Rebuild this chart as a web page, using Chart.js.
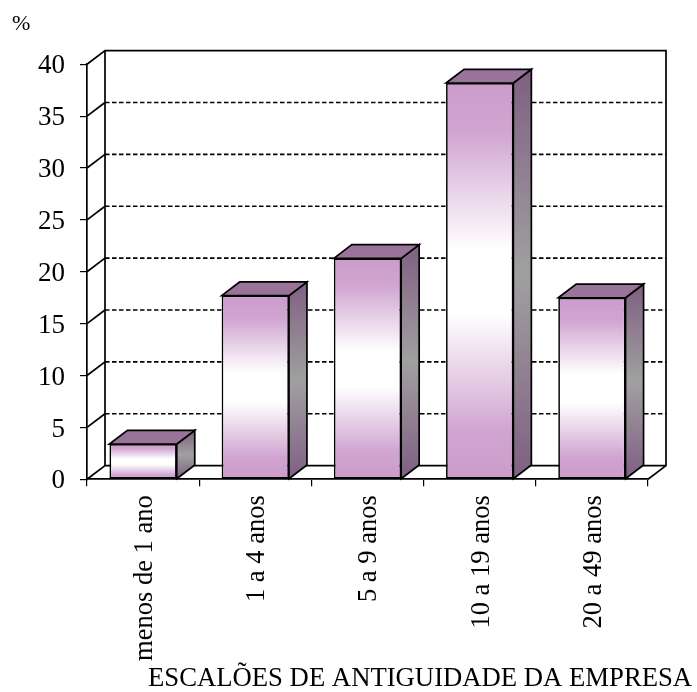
<!DOCTYPE html>
<html>
<head>
<meta charset="utf-8">
<style>html,body{margin:0;padding:0;background:#fff}canvas{display:block}</style>
<script src="https://cdn.jsdelivr.net/npm/chart.js@4"></script>
</head>
<body>
<canvas id="c" width="697" height="692"></canvas>
<script>
const categories = ["menos de 1 ano", "1 a 4 anos", "5 a 9 anos", "10 a 19 anos", "20 a 49 anos"];
const values = [3.4, 17.7, 21.3, 38.2, 17.5];
const unitLabel = "%";
const axisTitle = "ESCALÕES DE ANTIGUIDADE DA EMPRESA";
const serif = '"Liberation Serif", "Times New Roman", serif';
const DX = 18, DY = 13.7;

const scene = {
  id: 'scene',
  beforeDatasetsDraw(chart) {
    const c = chart.ctx, y = chart.scales.y, a = chart.chartArea;
    c.save();
    c.strokeStyle = '#000';
    c.lineWidth = 1.7;
    c.beginPath();
    c.moveTo(a.left, a.top); c.lineTo(a.left + DX, a.top - DY);
    c.lineTo(a.right + DX, a.top - DY); c.lineTo(a.right + DX, a.bottom - DY);
    c.lineTo(a.right, a.bottom);
    c.moveTo(a.left + DX, a.top - DY); c.lineTo(a.left + DX, a.bottom - DY);
    c.lineTo(a.right + DX, a.bottom - DY);
    c.moveTo(a.left + DX, a.bottom - DY); c.lineTo(a.left, a.bottom);
    c.stroke();
    y.ticks.forEach(t => {
      if (t.value === y.min || t.value === y.max) return;
      const p = y.getPixelForValue(t.value);
      c.setLineDash([]);
      c.beginPath(); c.moveTo(a.left, p); c.lineTo(a.left + DX, p - DY); c.stroke();
      c.setLineDash([4.5, 2.5]);
      c.beginPath(); c.moveTo(a.left + DX, p - DY); c.lineTo(a.right + DX, p - DY); c.stroke();
    });
    c.setLineDash([]);
    chart.getDatasetMeta(0).data.forEach(el => {
      const L = el.x - el.width / 2, R = el.x + el.width / 2, T = el.y, B = el.base;
      const g = c.createLinearGradient(0, T - DY, 0, B);
      g.addColorStop(0, '#7f5f82'); g.addColorStop(0.5, '#a0a0a0'); g.addColorStop(1, '#7f5f82');
      c.fillStyle = g;
      c.beginPath();
      c.moveTo(R, T); c.lineTo(R + DX, T - DY); c.lineTo(R + DX, B - DY); c.lineTo(R, B); c.closePath();
      c.fill(); c.stroke();
      c.fillStyle = '#99739a';
      c.beginPath();
      c.moveTo(L, T); c.lineTo(L + DX, T - DY); c.lineTo(R + DX, T - DY); c.lineTo(R, T); c.closePath();
      c.fill(); c.stroke();
    });
    c.restore();
  },
  afterDraw(chart) {
    const c = chart.ctx;
    c.save();
    c.fillStyle = '#000';
    c.textBaseline = 'alphabetic';
    c.textAlign = 'left';
    c.font = '22px ' + serif;
    c.fillText(unitLabel, 12, 30);
    c.font = '26.7px ' + serif;
    c.fillText(axisTitle, 148, 686);
    c.restore();
  }
};

function frontFill(ctx) {
  const chart = ctx.chart;
  if (!chart.chartArea || ctx.raw === undefined) return '#cc9ccc';
  const top = chart.scales.y.getPixelForValue(ctx.raw), base = chart.scales.y.getPixelForValue(0);
  const g = chart.ctx.createLinearGradient(0, top, 0, base);
  g.addColorStop(0, '#cc9ccc');
  g.addColorStop(0.12, '#d0a4d0');
  g.addColorStop(0.42, '#ffffff');
  g.addColorStop(0.58, '#ffffff');
  g.addColorStop(0.88, '#d0a4d0');
  g.addColorStop(1, '#cc9ccc');
  return g;
}

new Chart(document.getElementById('c'), {
  type: 'bar',
  data: {
    labels: categories,
    datasets: [{
      data: values,
      backgroundColor: frontFill,
      borderColor: '#000',
      borderWidth: 1.7,
      borderSkipped: false,
      categoryPercentage: 1,
      barPercentage: 0.6
    }]
  },
  options: {
    responsive: false,
    animation: false,
    layout: { padding: { top: 64.3, right: 49, left: 0, bottom: 0 } },
    plugins: { legend: { display: false }, tooltip: { enabled: false }, title: { display: false } },
    scales: {
      x: {
        afterFit(s) { s.height = 212.7; },
        border: { color: '#000', width: 1.7 },
        grid: { offset: true, drawOnChartArea: false, drawTicks: true, tickLength: 7, color: '#000', lineWidth: 1.2 },
        ticks: { minRotation: 90, maxRotation: 90, autoSkip: false, color: '#000', padding: 9, labelOffset: 2, font: { family: serif, size: 26.5 } }
      },
      y: {
        min: 0, max: 40,
        afterFit(s) { s.width = 87; },
        border: { color: '#000', width: 1.7 },
        grid: { drawOnChartArea: false, drawTicks: true, tickLength: 7, color: '#000', lineWidth: 1.2 },
        ticks: { stepSize: 5, color: '#000', padding: 15, labelOffset: 2, font: { family: serif, size: 27 } }
      }
    }
  },
  plugins: [scene]
});
</script>
</body>
</html>
